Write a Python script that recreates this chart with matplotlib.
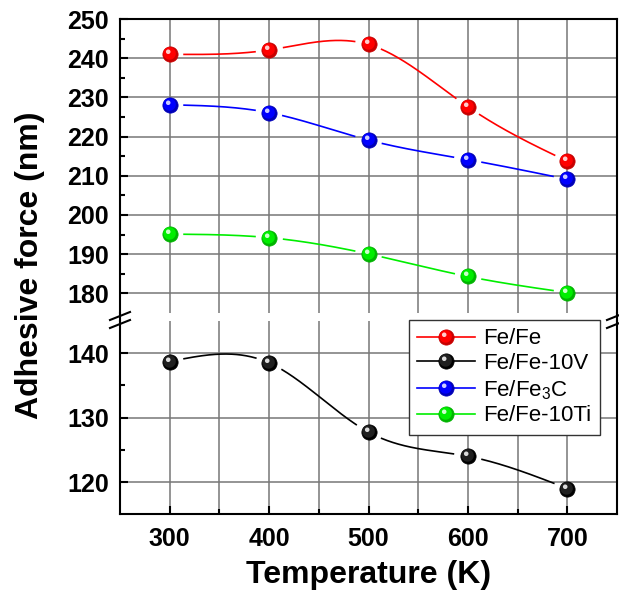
import numpy as np
import matplotlib.pyplot as plt
from matplotlib.path import Path
from matplotlib.lines import Line2D
from matplotlib.legend_handler import HandlerTuple

plt.rcParams['font.family'] = ['Liberation Sans', 'DejaVu Sans']
plt.rcParams['mathtext.default'] = 'regular'

temps = [300, 400, 500, 600, 700]
fe_fe = [241.0, 242.1, 243.5, 227.6, 213.7]
fe_fe10v = [138.7, 138.5, 127.75, 124.0, 119.0]
fe_fe3c = [228.1, 226.1, 219.1, 214.1, 209.1]
fe_fe10ti = [195.1, 194.2, 190.05, 184.3, 180.2]

labels = ['Fe/Fe', 'Fe/Fe-10V', 'Fe/Fe$_3$C', 'Fe/Fe-10Ti']
colors = ['#ff0000', '#000000', '#0000ff', '#00ee00']
darks = ['#c80000', '#000000', '#0000b8', '#00b400']
mids = ['#ff0000', '#202020', '#0000ff', '#00ee00']
lights = ['#ffcccc', '#dddddd', '#ccccff', '#ccffcc']


def natural_spline(x, y, n=500):
    x = np.asarray(x, float)
    y = np.asarray(y, float)
    k = len(x)
    h = np.diff(x)
    A = np.zeros((k, k))
    b = np.zeros(k)
    A[0, 0] = A[-1, -1] = 1
    for i in range(1, k - 1):
        A[i, i - 1] = h[i - 1]
        A[i, i] = 2 * (h[i - 1] + h[i])
        A[i, i + 1] = h[i]
        b[i] = 6 * ((y[i + 1] - y[i]) / h[i] - (y[i] - y[i - 1]) / h[i - 1])
    m = np.linalg.solve(A, b)
    xs = np.linspace(x[0], x[-1], n)
    idx = np.clip(np.searchsorted(x, xs) - 1, 0, k - 2)
    x0, x1 = x[idx], x[idx + 1]
    hh = x1 - x0
    t0, t1 = x1 - xs, xs - x0
    ys = (m[idx] * t0 ** 3 + m[idx + 1] * t1 ** 3) / (6 * hh) \
        + (y[idx] / hh - m[idx] * hh / 6) * t0 + (y[idx + 1] / hh - m[idx + 1] * hh / 6) * t1
    return xs, ys


def spot_path(cx, cy, r):
    # off-centre spot; two far moveto points keep marker scaling fixed (1 = ball radius)
    th = np.linspace(0, 2 * np.pi, 30)
    verts = [(1, 1), (-1, -1)] + list(zip(cx + r * np.cos(th), cy + r * np.sin(th)))
    codes = [Path.MOVETO, Path.MOVETO, Path.MOVETO] + [Path.LINETO] * 28 + [Path.CLOSEPOLY]
    return Path(verts, codes)


spot_big = spot_path(-0.12, 0.14, 0.82)
spot_small = spot_path(-0.3, 0.36, 0.3)

fig = plt.figure(figsize=(6.19, 5.94), dpi=100)
ax_top = fig.add_axes([0.1939, 0.4732, 0.8029, 0.4948])
ax_bot = fig.add_axes([0.1939, 0.1342, 0.8029, 0.3254])

ax_top.set_ylim(175, 250)
ax_bot.set_ylim(115, 145)
for ax in (ax_top, ax_bot):
    ax.set_xlim(250, 750)
    ax.set_xticks(temps)
    ax.set_xticks([350, 450, 550, 650], minor=True)
    ax.grid(True, which='both', axis='x', color='#777777', lw=1.1)
    ax.grid(True, which='major', axis='y', color='#777777', lw=1.1)
    ax.set_axisbelow(True)
    for s in ax.spines.values():
        s.set_linewidth(1.5)
    ax.tick_params(which='both', direction='in', top=False, right=False, width=1.5)
    ax.tick_params(which='major', length=6, labelsize=18, pad=8)
    ax.tick_params(which='minor', length=3.5)
    for t in ax.get_xticklabels() + ax.get_yticklabels():
        t.set_fontweight('bold')

ax_top.set_yticks(np.arange(180, 251, 10))
ax_top.set_yticks(np.arange(185, 250, 10), minor=True)
ax_top.spines['bottom'].set_visible(False)
ax_top.tick_params(axis='x', which='both', bottom=False, labelbottom=False)
ax_bot.set_yticks([120, 130, 140])
ax_bot.set_yticks([125, 135], minor=True)
ax_bot.spines['top'].set_visible(False)
ax_bot.tick_params(axis='x', pad=9)

series = [fe_fe, fe_fe10v, fe_fe3c, fe_fe10ti]
axes_for = [ax_top, ax_bot, ax_top, ax_top]
ms = 11
handles = []
for vals, ax, c, dc, mc, lc in zip(series, axes_for, colors, darks, mids, lights):
    xs, ys = natural_spline(temps, vals)
    disp = ax.transData.transform(np.column_stack([xs, ys]))
    pts = ax.transData.transform(np.column_stack([temps, vals]))
    d = np.min(np.hypot(disp[:, None, 0] - pts[None, :, 0], disp[:, None, 1] - pts[None, :, 1]), axis=1)
    ys = np.where(d < 14, np.nan, ys)
    ax.plot(xs, ys, color=c, lw=1.2, zorder=3)
    ax.plot(temps, vals, 'o', ms=ms, color=dc, mec=dc, mew=0.5, zorder=4)
    ax.plot(temps, vals, ls='none', marker=spot_big, ms=ms, color=mc, mec='none', zorder=5)
    ax.plot(temps, vals, ls='none', marker=spot_small, ms=ms, color=lc, mec='none', zorder=6)
    h1 = Line2D([], [], color=c, lw=1.2, marker='o', ms=ms, mfc=dc, mec=dc, mew=0.5)
    h2 = Line2D([], [], ls='none', marker=spot_big, ms=ms, color=mc, mec='none')
    h3 = Line2D([], [], ls='none', marker=spot_small, ms=ms, color=lc, mec='none')
    handles.append((h1, h2, h3))

leg = fig.legend(handles, labels, handler_map={tuple: HandlerTuple(ndivide=1)},
                 loc='upper right', bbox_to_anchor=(600 / 619, 1 - 319.5 / 594),
                 borderaxespad=0, fontsize=16, handlelength=2.6, handletextpad=0.35,
                 labelspacing=0.17, borderpad=0.4, fancybox=False, framealpha=1)
leg.get_frame().set_edgecolor('#333333')
leg.get_frame().set_linewidth(1.0)

# axis break: join spines across the gap and draw the slashes
W, H = 619, 594
for xp in (120, 617):
    fig.add_artist(Line2D([xp / W, xp / W], [1 - 312.9 / H, 1 - 321 / H], color='k', lw=1.5))
    for dy in (0, 8):
        fig.add_artist(Line2D([(xp - 10) / W, (xp + 10) / W],
                              [1 - (320 + dy) / H, 1 - (312 + dy) / H], color='k', lw=1.5))

fig.text(369 / W, 1 - 575 / H, 'Temperature (K)', ha='center', va='center',
         fontsize=23, fontweight='bold')
fig.text(30 / W, 1 - 265 / H, 'Adhesive force (nm)', ha='center', va='center',
         rotation=90, fontsize=23, fontweight='bold')

fig.savefig('out.png', dpi=100)
